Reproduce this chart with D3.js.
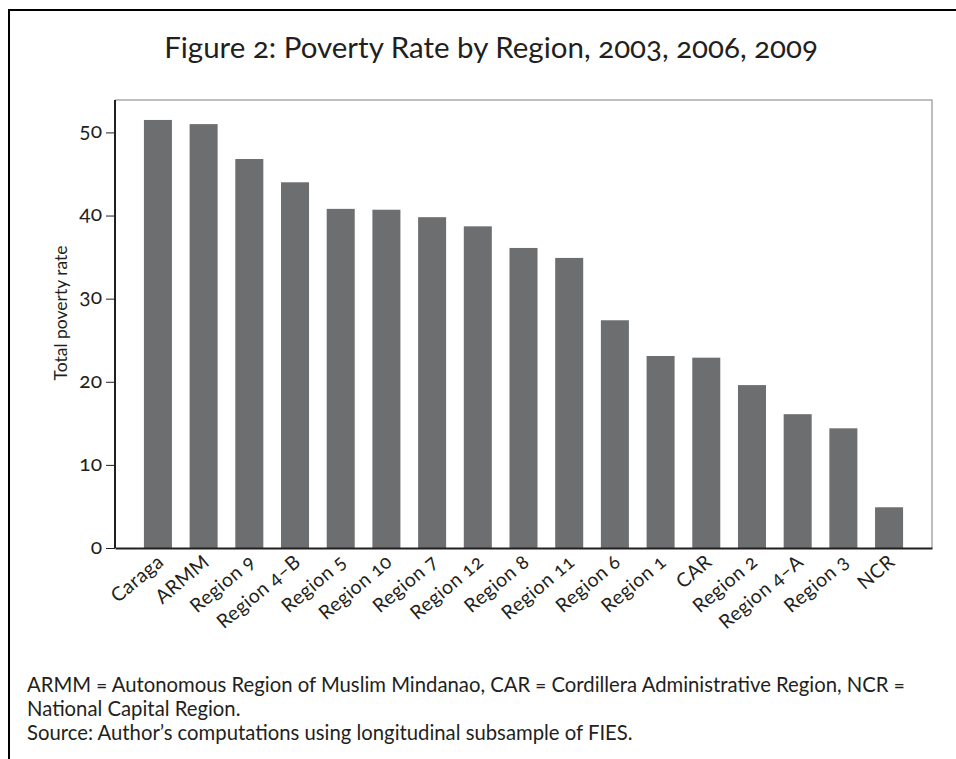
<!DOCTYPE html>
<html>
<head>
<meta charset="utf-8">
<script src="https://cdn.jsdelivr.net/npm/d3@7"></script>
<style>
  body { margin: 0; background: #fff; }
  svg { display: block; }
  text { font-family: Lato, "Open Sans", sans-serif; font-variant-numeric: oldstyle-nums; font-feature-settings: "onum"; fill: #231f20; }
</style>
</head>
<body>
<svg id="chart" width="956" height="759"></svg>
<script>
const categories = ["Caraga","ARMM","Region 9","Region 4–B","Region 5","Region 10","Region 7","Region 12","Region 8","Region 11","Region 6","Region 1","CAR","Region 2","Region 4–A","Region 3","NCR"];
const povertyRate = [51.5, 51.0, 46.8, 44.0, 40.8, 40.7, 39.8, 38.7, 36.1, 34.9, 27.4, 23.1, 22.9, 19.6, 16.1, 14.4, 4.9];
const yTicks = [0, 10, 20, 30, 40, 50];
const titleText = "Figure 2: Poverty Rate by Region, 2003, 2006, 2009";
const yLabel = "Total poverty rate";
const notes = [
  "ARMM = Autonomous Region of Muslim Mindanao, CAR = Cordillera Administrative Region, NCR =",
  "National Capital Region.",
  "Source: Author’s computations using longitudinal subsample of FIES."
];

const svg = d3.select("#chart");
const plot = { left: 115, right: 932, top: 100, bottom: 548 };

// outer frame (left and top edges)
svg.append("path")
  .attr("d", `M9,759 L9,10 L956,10`)
  .attr("fill", "none").attr("stroke", "#000").attr("stroke-width", 2);

svg.append("text")
  .attr("x", 491).attr("y", 58)
  .attr("text-anchor", "middle")
  .style("font-size", "29.5px")
  .text(titleText);

const x = d3.scaleBand().domain(categories).range([plot.left, plot.right])
  .paddingInner(0.387).paddingOuter(0.633);
const y = d3.scaleLinear().domain([0, 53.9]).range([plot.bottom, plot.top]);

// plot box top and right (gray)
svg.append("path")
  .attr("d", `M${plot.left},${plot.top} L${plot.right},${plot.top} L${plot.right},${plot.bottom}`)
  .attr("fill", "none").attr("stroke", "#a7a9ac").attr("stroke-width", 1.5);

svg.append("g").selectAll("rect").data(categories).join("rect")
  .attr("x", d => x(d))
  .attr("width", x.bandwidth())
  .attr("y", (d, i) => y(povertyRate[i]))
  .attr("height", (d, i) => y(0) - y(povertyRate[i]))
  .attr("fill", "#6d6e70");

// y axis
const yAxis = svg.append("g").attr("transform", `translate(${plot.left},0)`)
  .call(d3.axisLeft(y).tickValues(yTicks).tickSize(9).tickPadding(4).tickSizeOuter(0));
yAxis.select(".domain").attr("stroke", "#231f20").attr("stroke-width", 2)
  .attr("d", `M0,${plot.top}V${plot.bottom}`);
yAxis.selectAll(".tick line").attr("stroke", "#231f20").attr("stroke-width", 1);
yAxis.selectAll(".tick text").style("font-size", "21px").attr("fill", "#231f20")
  .style("font-family", "Lato, sans-serif").attr("dy", "0.25em");

// x axis
const xAxis = svg.append("g").attr("transform", `translate(0,${plot.bottom})`)
  .call(d3.axisBottom(x).tickSize(0).tickSizeOuter(0));
xAxis.select(".domain").attr("stroke", "#231f20").attr("stroke-width", 2);
xAxis.selectAll(".tick text")
  .style("font-size", "19.5px").attr("fill", "#231f20")
  .style("font-family", "Lato, sans-serif")
  .style("letter-spacing", "0.4px")
  .attr("text-anchor", "end")
  .attr("dy", null).attr("y", 0)
  .attr("transform", "translate(7,16) rotate(-40)");

svg.append("text")
  .attr("transform", `translate(67,313) rotate(-90)`)
  .attr("text-anchor", "middle")
  .style("font-size", "17.5px")
  .text(yLabel);

svg.append("g").selectAll("text").data(notes).join("text")
  .attr("x", 27).attr("y", (d, i) => 692 + i * 24)
  .style("font-size", "20.3px")
  .text(d => d);
</script>
</body>
</html>
